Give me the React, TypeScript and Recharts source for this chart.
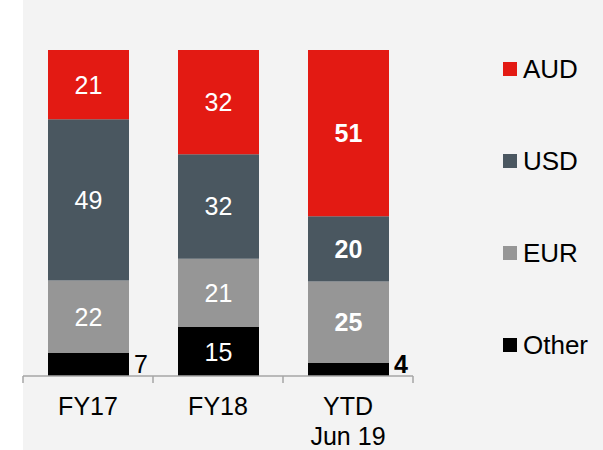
import React from 'react';
import { BarChart, Bar, XAxis, YAxis } from 'recharts';

const categories = ['FY17', 'FY18', 'YTD\nJun 19'];
const aud = [21, 32, 51];
const usd = [49, 32, 20];
const eur = [22, 21, 25];
const other = [7, 15, 4];

const FONT = '"Liberation Sans", Arial, sans-serif';

// stacked bottom -> top
const series = [
  { key: 'Other', values: other, color: '#000000' },
  { key: 'EUR', values: eur, color: '#969696' },
  { key: 'USD', values: usd, color: '#4a5760' },
  { key: 'AUD', values: aud, color: '#e31a13' },
];

const data = categories.map((name, i) => {
  const row: Record<string, string | number> = { name };
  series.forEach((s) => {
    row[s.key] = s.values[i];
  });
  return row;
});

const makeLabel = (values: number[]) => (props: any) => {
  const x = Number(props.x);
  const y = Number(props.y);
  const width = Number(props.width);
  const height = Number(props.height);
  const index = props.index as number;
  const v = values[index];
  const weight = index === 2 ? 'bold' : 'normal';
  if (height < 30) {
    // small segment: value sits outside, to the right
    return (
      <text
        x={x + width + 5}
        y={y + height - 3}
        fill="#000"
        fontSize={25}
        fontFamily={FONT}
        fontWeight={weight}
        textAnchor="start"
      >
        {v}
      </text>
    );
  }
  return (
    <text
      x={x + width / 2}
      y={y + height / 2}
      fill="#fff"
      fontSize={25}
      fontFamily={FONT}
      fontWeight={weight}
      textAnchor="middle"
      dominantBaseline="central"
    >
      {v}
    </text>
  );
};

const CategoryTick = (props: any) => {
  const { x, y, payload, index, visibleTicksCount } = props;
  const half = payload?.offset || 65;
  const lines = String(payload.value).split('\n');
  const isLast = index === visibleTicksCount - 1;
  return (
    <g>
      <line x1={x - half} x2={x - half} y1={y} y2={y + 7} stroke="#a6a6a6" strokeWidth={1.5} />
      {isLast && (
        <line x1={x + half} x2={x + half} y1={y} y2={y + 7} stroke="#a6a6a6" strokeWidth={1.5} />
      )}
      {lines.map((line, i) => (
        <text
          key={i}
          x={x}
          y={y + 39 + i * 30}
          textAnchor="middle"
          fill="#000"
          fontSize={25}
          fontFamily={FONT}
        >
          {line}
        </text>
      ))}
    </g>
  );
};

const legendOrder = ['AUD', 'USD', 'EUR', 'Other'];

export default function App() {
  return (
    <div
      style={{
        position: 'absolute',
        left: 0,
        top: 0,
        width: 603,
        height: 450,
        background: 'linear-gradient(to right, #ffffff 23px, #f3f3f3 23px)',
        overflow: 'hidden',
      }}
    >
      <BarChart
        width={603}
        height={450}
        data={data}
        stackOffset="expand"
        margin={{ top: 50, right: 190, left: 23, bottom: 0 }}
      >
        <XAxis
          dataKey="name"
          height={74}
          interval={0}
          tickLine={false}
          tickSize={0}
          tickMargin={0}
          axisLine={{ stroke: '#a6a6a6', strokeWidth: 1.5 }}
          tick={<CategoryTick />}
        />
        <YAxis hide domain={[0, 1]} />
        {series.map((s) => (
          <Bar
            key={s.key}
            dataKey={s.key}
            stackId="a"
            fill={s.color}
            barSize={81}
            isAnimationActive={false}
            label={makeLabel(s.values)}
          />
        ))}
      </BarChart>
      <div style={{ position: 'absolute', left: 503, top: 46, fontFamily: FONT, fontSize: 26 }}>
        {legendOrder.map((k) => {
          const s = series.find((d) => d.key === k)!;
          return (
            <div key={k} style={{ height: 92, display: 'flex', alignItems: 'flex-start' }}>
              <div style={{ display: 'flex', alignItems: 'center', height: 46 }}>
                <span style={{ width: 14, height: 14, background: s.color, display: 'inline-block', marginRight: 6 }} />
                <span style={{ color: '#000' }}>{k}</span>
              </div>
            </div>
          );
        })}
      </div>
    </div>
  );
}
